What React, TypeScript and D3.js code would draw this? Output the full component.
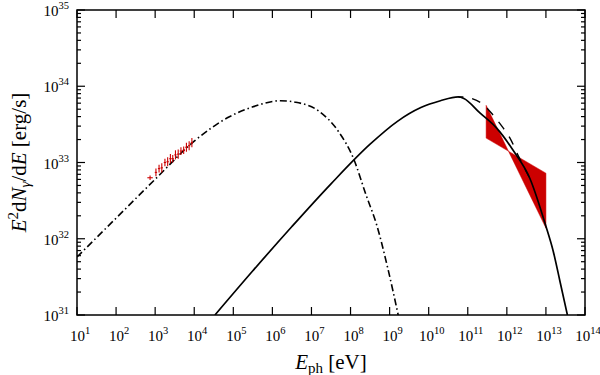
import { useRef, useEffect } from 'react';
import * as d3 from 'd3';

const W = 600;
const H = 375;

// all values as log10: photon energy [eV] and E^2 dN/dE [erg/s]
const xDecades = [1, 2, 3, 4, 5, 6, 7, 8, 9, 10, 11, 12, 13, 14];
const yDecades = [31, 32, 33, 34, 35];

// synchrotron model (dash-dot)
const synLogE = [1.0, 2.0, 3.0, 4.0, 4.9, 5.5, 6.2, 6.6, 7.2, 7.7, 8.07, 8.4, 8.67, 8.95, 9.22];
const synLogF = [31.76, 32.27, 32.78, 33.28, 33.6, 33.73, 33.81, 33.79, 33.67, 33.4, 33.06, 32.57, 32.18, 31.62, 31.0];

// inverse Compton model (solid)
const icLogE = [4.53, 5.5, 6.5, 7.5, 8.5, 9.2, 9.8, 10.3, 10.76, 10.9, 11.31, 11.74, 12.16, 12.59, 12.99, 13.19, 13.36, 13.55];
const icLogF = [31.0, 31.58, 32.16, 32.72, 33.24, 33.54, 33.72, 33.81, 33.86, 33.84, 33.65, 33.45, 33.16, 32.79, 32.18, 31.83, 31.44, 31.0];

// unabsorbed IC (dashed)
const dashLogE = [10.76, 10.95, 11.1, 11.42, 11.65, 11.91, 12.08, 12.3, 12.59];
const dashLogF = [33.86, 33.86, 33.84, 33.75, 33.62, 33.45, 33.32, 33.08, 32.79];

// X-ray data
const xrayLogE = [2.87, 3.02, 3.1, 3.17, 3.25, 3.32, 3.39, 3.45, 3.52, 3.59, 3.66, 3.73, 3.8, 3.87, 3.94];
const xrayLogF = [32.8, 32.87, 32.92, 32.93, 33.0, 33.01, 33.05, 33.05, 33.1, 33.11, 33.15, 33.16, 33.2, 33.22, 33.26];
const xrayErrF = [0.03, 0.05, 0.05, 0.06, 0.05, 0.06, 0.06, 0.05, 0.06, 0.06, 0.05, 0.05, 0.06, 0.06, 0.06];
const xrayErrE = [0.07, 0.03, 0.03, 0.03, 0.03, 0.03, 0.03, 0.03, 0.03, 0.03, 0.03, 0.03, 0.03, 0.03, 0.03];

// TeV butterfly
const bowLogE = [11.47, 13.0];
const bowSteepLogF = [33.75, 32.14];
const bowFlatLogF = [33.32, 32.86];

const RED = '#cc0000';
const FONT = "'Times New Roman', 'Liberation Serif', 'DejaVu Serif', 'Nimbus Roman', serif";

export default function App() {
  const ref = useRef<SVGSVGElement | null>(null);

  useEffect(() => {
    const svg = d3.select(ref.current);
    svg.selectAll('*').remove();

    const x = d3.scaleLinear().domain([1, 14]).range([77, 585]);
    const y = d3.scaleLinear().domain([31, 35]).range([315, 10]);
    const [x0, x1] = x.range();
    const [y0, y1] = y.range();

    svg.append('defs').append('clipPath').attr('id', 'plot-clip')
      .append('rect').attr('x', x0).attr('y', y1).attr('width', x1 - x0).attr('height', y0 - y1);

    const line = d3.line<[number, number]>()
      .x(d => x(d[0])).y(d => y(d[1]))
      .curve(d3.curveMonotoneX);

    const plot = svg.append('g').attr('clip-path', 'url(#plot-clip)');

    // butterfly
    const bow: [number, number][] = [
      [bowLogE[0], bowSteepLogF[0]], [bowLogE[1], bowSteepLogF[1]],
      [bowLogE[1], bowFlatLogF[1]], [bowLogE[0], bowFlatLogF[0]],
    ];
    plot.append('path')
      .attr('d', 'M' + bow.map(d => `${x(d[0])},${y(d[1])}`).join('L') + 'Z')
      .attr('fill', RED).attr('stroke', RED).attr('stroke-width', 0.5);

    // models
    plot.append('path').datum(d3.zip(synLogE, synLogF) as [number, number][])
      .attr('d', line).attr('fill', 'none').attr('stroke', '#000')
      .attr('stroke-width', 1.6).attr('stroke-dasharray', '7,3,1.5,3');
    plot.append('path').datum(d3.zip(icLogE, icLogF) as [number, number][])
      .attr('d', line).attr('fill', 'none').attr('stroke', '#000').attr('stroke-width', 1.7);
    plot.append('path').datum(d3.zip(dashLogE, dashLogF) as [number, number][])
      .attr('d', line).attr('fill', 'none').attr('stroke', '#000')
      .attr('stroke-width', 1.4).attr('stroke-dasharray', '9,9').attr('stroke-dashoffset', 4);

    // X-ray points
    const pts = plot.append('g').attr('stroke', RED).attr('stroke-width', 1.1);
    xrayLogE.forEach((e, i) => {
      const f = xrayLogF[i];
      pts.append('line')
        .attr('x1', x(e)).attr('x2', x(e))
        .attr('y1', y(f - xrayErrF[i])).attr('y2', y(f + xrayErrF[i]));
      pts.append('line')
        .attr('x1', x(e - xrayErrE[i])).attr('x2', x(e + xrayErrE[i]))
        .attr('y1', y(f)).attr('y2', y(f));
    });

    // frame
    svg.append('rect').attr('x', x0).attr('y', y1)
      .attr('width', x1 - x0).attr('height', y0 - y1)
      .attr('fill', 'none').attr('stroke', '#000').attr('stroke-width', 1.5);

    const ticks = svg.append('g').attr('stroke', '#000').attr('stroke-width', 1.2);
    const major = 8, minor = 4;
    xDecades.forEach(d => {
      ticks.append('line').attr('x1', x(d)).attr('x2', x(d)).attr('y1', y0).attr('y2', y0 - major);
      ticks.append('line').attr('x1', x(d)).attr('x2', x(d)).attr('y1', y1).attr('y2', y1 + major);
    });
    yDecades.forEach(d => {
      ticks.append('line').attr('y1', y(d)).attr('y2', y(d)).attr('x1', x0).attr('x2', x0 + major);
      ticks.append('line').attr('y1', y(d)).attr('y2', y(d)).attr('x1', x1).attr('x2', x1 - major);
      if (d === yDecades[yDecades.length - 1]) return;
      d3.range(2, 10).forEach(k => {
        const v = y(d + Math.log10(k));
        ticks.append('line').attr('y1', v).attr('y2', v).attr('x1', x0).attr('x2', x0 + minor);
        ticks.append('line').attr('y1', v).attr('y2', v).attr('x1', x1).attr('x2', x1 - minor);
      });
    });

    // tick labels
    const labels = svg.append('g').attr('font-family', FONT).attr('fill', '#000');
    xDecades.forEach(d => {
      const t = labels.append('text').attr('x', x(d) + 3).attr('y', 341)
        .attr('text-anchor', 'middle').attr('font-size', 15);
      t.append('tspan').text('10');
      t.append('tspan').attr('dy', -7).attr('font-size', 10.5).text(d);
    });
    yDecades.forEach(d => {
      const t = labels.append('text').attr('x', x0 - 8).attr('y', y(d) + 6)
        .attr('text-anchor', 'end').attr('font-size', 15);
      t.append('tspan').text('10');
      t.append('tspan').attr('dy', -7).attr('font-size', 10.5).text(d);
    });

    // axis titles
    const xt = labels.append('text').attr('x', (x0 + x1) / 2).attr('y', 369)
      .attr('text-anchor', 'middle').attr('font-size', 21);
    xt.append('tspan').attr('font-style', 'italic').text('E');
    xt.append('tspan').attr('dy', 4).attr('font-size', 15).text('ph');
    xt.append('tspan').attr('dy', -4).text(' [eV]');

    const yt = labels.append('text')
      .attr('transform', `translate(26,${(y0 + y1) / 2}) rotate(-90)`)
      .attr('text-anchor', 'middle').attr('font-size', 21);
    yt.append('tspan').attr('font-style', 'italic').text('E');
    yt.append('tspan').attr('dy', -8).attr('font-size', 15).text('2');
    yt.append('tspan').attr('dy', 8).text('d');
    yt.append('tspan').attr('font-style', 'italic').text('N');
    yt.append('tspan').attr('dy', 4).attr('font-size', 15).attr('font-style', 'italic').text('γ');
    yt.append('tspan').attr('dy', -4).text('/d');
    yt.append('tspan').attr('font-style', 'italic').text('E');
    yt.append('tspan').text(' [erg/s]');
  }, []);

  return (
    <svg
      ref={ref}
      width={W}
      height={H}
      style={{ position: 'absolute', left: 0, top: 0, background: '#fff' }}
    />
  );
}
